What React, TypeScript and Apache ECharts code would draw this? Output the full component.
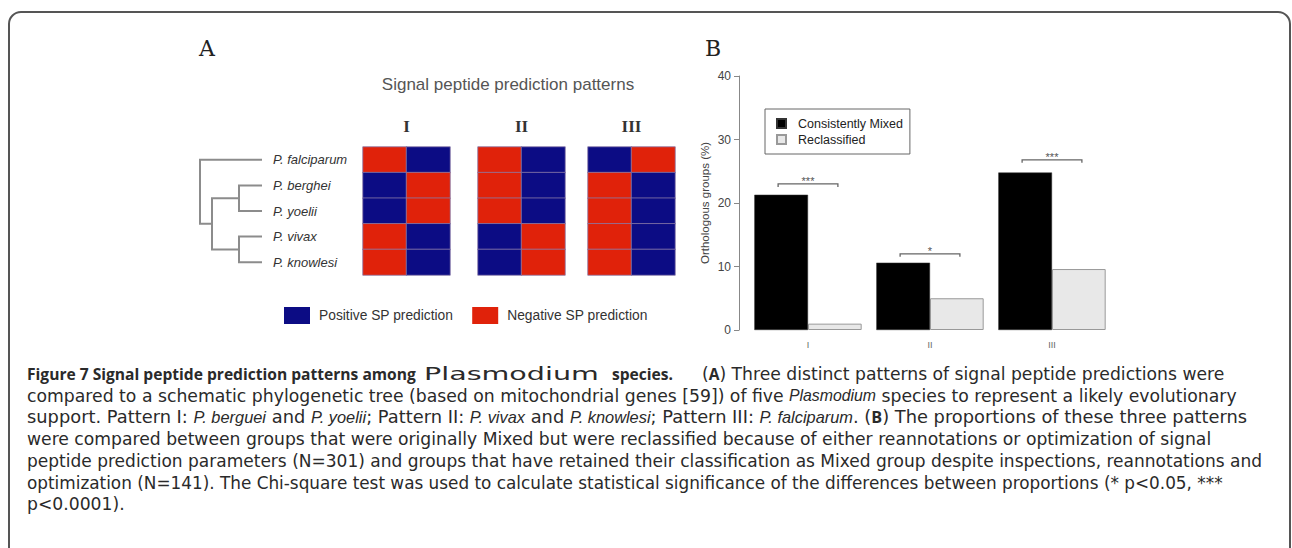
import React, { useEffect, useRef } from 'react';
import * as echarts from 'echarts';

// ---------- Panel A data ----------
const species = ['P. falciparum', 'P. berghei', 'P. yoelii', 'P. vivax', 'P. knowlesi'];
const patternNames = ['I', 'II', 'III'];
// 1 = positive SP prediction (blue), 0 = negative SP prediction (red); two columns per pattern
const patternI = [[0, 1], [1, 0], [1, 0], [0, 1], [0, 1]];
const patternII = [[0, 1], [0, 1], [0, 1], [1, 0], [1, 0]];
const patternIII = [[1, 0], [0, 1], [0, 1], [0, 1], [0, 1]];
const patterns = [patternI, patternII, patternIII];
const legendLabels = ['Positive SP prediction', 'Negative SP prediction'];
// schematic tree: polylines in (branch depth, species row) units
const treeEdges = [
  [[62, 0], [0, 0], [0, 2.5], [12, 2.5]],
  [[39, 1.5], [12, 1.5], [12, 3.5], [39, 3.5]],
  [[62, 1], [39, 1], [39, 2], [62, 2]],
  [[62, 3], [39, 3], [39, 4], [62, 4]],
];

// ---------- Panel B data ----------
const barCategories = ['I', 'II', 'III'];
const consistentlyMixed = [21.3, 10.6, 24.8];
const reclassified = [1.0, 5.0, 9.6];
const sigY = [23.0, 12.0, 26.8];
const sigLabels = ['***', '*', '***'];
const seriesNames = ['Consistently Mixed', 'Reclassified'];

// ---------- Caption (each line is a list of chunks; each chunk a list of styled segments) ----------
const captionLines: Array<Array<Array<[string, string]>>> = [
  [
    [['b', 'Figure 7 Signal peptide prediction patterns among']],
    [['pl', 'Plasmodium']],
    [['b', 'species.']],
    [['r', '('], ['b', 'A'], ['r', ') Three distinct patterns of signal peptide predictions were']],
  ],
  [[['r', 'compared to a schematic phylogenetic tree (based on mitochondrial genes [59]) of five '], ['i', 'Plasmodium'], ['r', ' species to represent a likely evolutionary']]],
  [[['r', 'support. Pattern I: '], ['i', 'P. berguei'], ['r', ' and '], ['i', 'P. yoelii'], ['r', '; Pattern II: '], ['i', 'P. vivax'], ['r', ' and '], ['i', 'P. knowlesi'], ['r', '; Pattern III: '], ['i', 'P. falciparum'], ['r', '. ('], ['b', 'B'], ['r', ') The proportions of these three patterns']]],
  [[['r', 'were compared between groups that were originally Mixed but were reclassified because of either reannotations or optimization of signal']]],
  [[['r', 'peptide prediction parameters (N=301) and groups that have retained their classification as Mixed group despite inspections, reannotations and']]],
  [[['r', 'optimization (N=141). The Chi-square test was used to calculate statistical significance of the differences between proportions (* p<0.05, ***']]],
  [[['r', 'p<0.0001).']]],
];

const BLUE = '#0c0c84';
const RED = '#e0220a';
const SANS = 'Liberation Sans';
const CAP_FONT = 'DejaVu Sans';
const CAP_SIZE = 17.2;
const CAP_BOLD_FONT = 'Open Sans';
const CAP_BOLD = 15.6;
const CAP_ITALIC_FONT = 'Liberation Sans';
const CAP_ITALIC = 15.8;
const CAP_COLOR = '#2a2a2a';

export default function App() {
  const ref = useRef<HTMLDivElement>(null);

  useEffect(() => {
    if (!ref.current) return;
    const chart = echarts.init(ref.current, undefined, { renderer: 'svg' });

    const heatLefts = [363, 478, 588];
    const grids: any[] = heatLefts.map((l) => ({ left: l, top: 147, width: 87, height: 128 }));
    grids.push({ left: 200, top: 147, width: 62, height: 128 }); // tree
    grids.push({ left: 747, top: 76, width: 366, height: 254 }); // bars

    const xAxes: any[] = patternNames.map((n, i) => ({
      type: 'category', gridIndex: i, data: ['a', 'b'], position: 'top',
      name: n, nameLocation: 'middle', nameGap: 12,
      nameTextStyle: { fontFamily: 'Liberation Serif', fontWeight: 'bold', fontSize: 17, color: '#333' },
      axisLine: { show: false }, axisTick: { show: false }, axisLabel: { show: false }, splitLine: { show: false },
    }));
    xAxes.push({ type: 'value', gridIndex: 3, min: 0, max: 62, show: false });
    xAxes.push({
      type: 'category', gridIndex: 4, data: barCategories,
      axisLine: { show: false }, axisTick: { show: false },
      axisLabel: { fontSize: 9, color: '#666', margin: 10, fontFamily: SANS },
    });

    const yAxes: any[] = patternNames.map((_, i) => ({
      type: 'category', gridIndex: i, data: species, inverse: true,
      axisLine: { show: false }, axisTick: { show: false }, splitLine: { show: false },
      axisLabel: i === 0
        ? { show: true, align: 'left', margin: 90, fontStyle: 'italic', fontSize: 13, color: '#333', fontFamily: SANS }
        : { show: false },
    }));
    yAxes.push({ type: 'value', gridIndex: 3, min: -0.5, max: 4.5, inverse: true, show: false });
    yAxes.push({
      type: 'value', gridIndex: 4, min: 0, max: 40, interval: 10, offset: 8,
      name: 'Orthologous groups (%)', nameLocation: 'middle', nameGap: 28,
      nameTextStyle: { fontSize: 11.5, color: '#444', fontFamily: SANS },
      axisLine: { show: true, lineStyle: { color: '#888', width: 1 } },
      axisTick: { show: true, length: 5, lineStyle: { color: '#888' } },
      axisLabel: { fontSize: 12, color: '#444', margin: 8, fontFamily: SANS },
      splitLine: { show: false },
    });

    const series: any[] = patterns.map((pat, i) => {
      const data: number[][] = [];
      pat.forEach((row, s) => row.forEach((v, c) => data.push([c, s, v])));
      return {
        type: 'heatmap', xAxisIndex: i, yAxisIndex: i, data,
        itemStyle: { borderColor: '#8a7aa8', borderWidth: 0.8 },
        emphasis: { disabled: true },
      };
    });
    series.push({
      type: 'lines', coordinateSystem: 'cartesian2d', xAxisIndex: 3, yAxisIndex: 3, polyline: true,
      data: treeEdges.map((c) => ({ coords: c })),
      lineStyle: { color: '#8c8c8c', width: 2, opacity: 1 },
      silent: true,
    });
    series.push({
      name: seriesNames[0], type: 'bar', xAxisIndex: 4, yAxisIndex: 4, data: consistentlyMixed,
      barGap: '0%', barCategoryGap: '12%',
      itemStyle: { color: '#000', borderColor: '#333', borderWidth: 0.5 },
    });
    series.push({
      name: seriesNames[1], type: 'bar', xAxisIndex: 4, yAxisIndex: 4, data: reclassified,
      barGap: '0%', barCategoryGap: '12%',
      itemStyle: { color: '#e8e8e8', borderColor: '#999', borderWidth: 1 },
    });
    series.push({
      type: 'custom', xAxisIndex: 4, yAxisIndex: 4, silent: true,
      data: sigY.map((v, i) => [i, v]),
      renderItem: (params: any, api: any) => {
        const p = api.coord([api.value(0), api.value(1)]);
        const band = api.size([1, 0])[0];
        const h = band * 0.245;
        return {
          type: 'group',
          children: [
            {
              type: 'polyline',
              shape: { points: [[p[0] - h, p[1] + 3], [p[0] - h, p[1]], [p[0] + h, p[1]], [p[0] + h, p[1] + 3]] },
              style: { stroke: '#666', lineWidth: 1.3, fill: null },
            },
            {
              type: 'text', x: p[0], y: p[1] - 3,
              style: { text: sigLabels[params.dataIndex], align: 'center', verticalAlign: 'middle', fontSize: 11, fill: '#555', fontFamily: SANS },
            },
          ],
        };
      },
    });

    const rich = {
      r: { fontFamily: CAP_FONT, fontSize: CAP_SIZE, color: CAP_COLOR, lineHeight: 20 },
      b: { fontFamily: CAP_BOLD_FONT, fontSize: CAP_BOLD, fontWeight: 'bold', color: CAP_COLOR, lineHeight: 20 },
      i: { fontFamily: CAP_ITALIC_FONT, fontSize: CAP_ITALIC, fontStyle: 'italic', color: CAP_COLOR, lineHeight: 20 },
      pl: { fontFamily: CAP_FONT, fontSize: 17, color: '#3a3a3a', lineHeight: 20 },
    };
    // x positions of the chunks of the first caption line (others start at the margin)
    const line1X = [27, 424, 612, 702];
    // per-line horizontal fit to the reference's ragged line ends
    const lineFit = [1, 1.0025, 1.037, 1, 0.99, 0.981, 1];
    const captionGraphics: any[] = [];
    captionLines.forEach((chunks, i) => {
      chunks.forEach((segs, j) => {
        const isPl = segs.length === 1 && segs[0][0] === 'pl';
        captionGraphics.push({
          type: 'text', x: i === 0 ? line1X[j] : 27, y: 374 + i * 21.7,
          scaleX: isPl ? 1.68 : lineFit[i],
          style: {
            text: segs.map(([s, t]) => `{${s}|${t}}`).join(''),
            rich, verticalAlign: 'middle', align: 'left',
            fontFamily: CAP_FONT, fontSize: CAP_SIZE, fill: CAP_COLOR,
          },
        });
      });
    });

    chart.setOption({
      animation: false,
      backgroundColor: '#fff',
      grid: grids,
      xAxis: xAxes,
      yAxis: yAxes,
      visualMap: {
        type: 'piecewise', seriesIndex: [0, 1, 2], dimension: 2, orient: 'horizontal',
        left: 284, top: 307, padding: 0, itemWidth: 26, itemHeight: 17, itemGap: 19, textGap: 9,
        itemSymbol: 'rect', selectedMode: false, hoverLink: false,
        pieces: [
          { value: 0, label: legendLabels[1], color: RED },
          { value: 1, label: legendLabels[0], color: BLUE },
        ],
        inverse: true,
        textStyle: { fontSize: 13.8, color: '#333', fontFamily: SANS },
      },
      legend: {
        data: seriesNames, orient: 'vertical', left: 765, top: 109,
        itemWidth: 9, itemHeight: 9, itemGap: 3, icon: 'rect',
        borderColor: '#666', borderWidth: 1, padding: [8, 7, 8, 11],
        textStyle: { fontSize: 12.5, color: '#222', fontFamily: SANS, padding: [0, 0, 0, 7] },
        selectedMode: false,
      },
      graphic: [
        {
          type: 'rect', shape: { x: 9, y: 12, width: 1281, height: 700, r: 12 },
          style: { fill: 'none', stroke: '#555', lineWidth: 2 }, silent: true,
        },
        { type: 'text', x: 199, y: 48, style: { text: 'A', fontFamily: 'DejaVu Serif', fontSize: 22, fill: '#222', verticalAlign: 'middle' } },
        { type: 'text', x: 705, y: 48, style: { text: 'B', fontFamily: 'DejaVu Serif', fontSize: 22, fill: '#222', verticalAlign: 'middle' } },
        { type: 'text', x: 508, y: 84, style: { text: 'Signal peptide prediction patterns', fontFamily: SANS, fontSize: 17, fill: '#555', align: 'center', verticalAlign: 'middle' } },
        ...captionGraphics,
      ],
      series,
    });

    return () => chart.dispose();
  }, []);

  return <div ref={ref} style={{ position: 'fixed', left: 0, top: 0, width: '1292px', height: '548px' }} />;
}
